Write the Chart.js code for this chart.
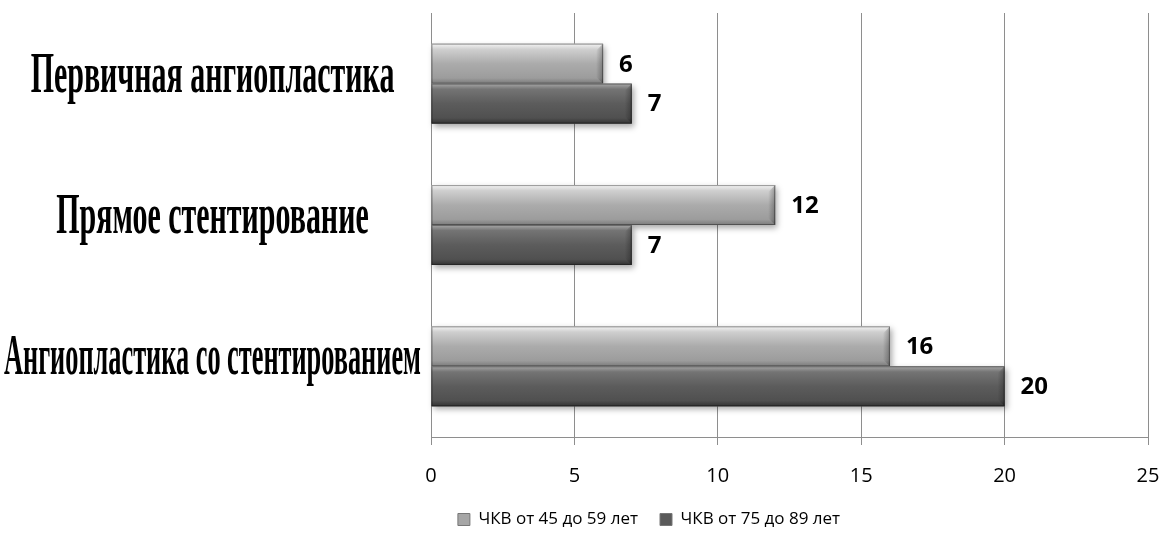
<!DOCTYPE html>
<html>
<head>
<meta charset="utf-8">
<script src="https://cdn.jsdelivr.net/npm/chart.js@4/dist/chart.umd.min.js"></script>
<style>
  html, body { margin: 0; padding: 0; background: #fff; }
  #wrap { width: 1168px; height: 540px; }
</style>
</head>
<body>
<div id="wrap"><canvas id="myChart" width="1168" height="540"></canvas></div>
<script>
'use strict';

// categories top to bottom
var categories = ['Первичная ангиопластика', 'Прямое стентирование', 'Ангиопластика со стентированием'];
var seriesNames = ['ЧКВ от 45 до 59 лет', 'ЧКВ от 75 до 89 лет'];
var values4559 = [6, 12, 16];
var values7589 = [7, 7, 20];
var xTicks = [0, 5, 10, 15, 20, 25];

var tickFont = '"Open Sans", sans-serif';

// colour stops for the bevelled bars: [top, upper, middle, lower, bottom]
var barShades = [
  ['#f4f4f4', '#cfcfcf', '#ababab', '#9c9c9c', '#7a7a7a'],
  ['#a8a8a8', '#747474', '#5c5c5c', '#505050', '#333333']
];
var legendColors = ['#a6a6a6', '#5a5a5a'];

var LEFT_PAD = 150;   // shifts the legend, the y axis width makes up for it
var PLOT_LEFT = 431;

function bevelBar(ctx, bar, shades) {
  var top = bar.y - bar.height / 2, h = bar.height;
  var left = bar.base, w = bar.x - bar.base;
  var g = ctx.createLinearGradient(0, top, 0, top + h);
  g.addColorStop(0, shades[0]);
  g.addColorStop(0.14, shades[1]);
  g.addColorStop(0.5, shades[2]);
  g.addColorStop(0.86, shades[3]);
  g.addColorStop(1, shades[4]);
  ctx.fillStyle = g;
  ctx.fillRect(left, top, w, h);
  // darker chamfer on the right end
  var e = Math.min(7, w / 3);
  var ge = ctx.createLinearGradient(left + w - e, 0, left + w, 0);
  ge.addColorStop(0, 'rgba(0,0,0,0)');
  ge.addColorStop(1, 'rgba(0,0,0,0.28)');
  ctx.fillStyle = ge;
  ctx.beginPath();
  ctx.moveTo(left + w - e, top + e);
  ctx.lineTo(left + w, top);
  ctx.lineTo(left + w, top + h);
  ctx.lineTo(left + w - e, top + h - e);
  ctx.closePath();
  ctx.fill();
  ctx.strokeStyle = 'rgba(0,0,0,0.35)';
  ctx.lineWidth = 1;
  ctx.strokeRect(left + 0.5, top + 0.5, w - 1, h - 1);
}

var barPainter = {
  id: 'barPainter',
  beforeDatasetsDraw: function (chart) {
    var ctx = chart.ctx;
    ctx.save();
    ctx.shadowColor = 'rgba(0,0,0,0.35)';
    ctx.shadowBlur = 6;
    ctx.shadowOffsetX = 2;
    ctx.shadowOffsetY = 3;
    chart.data.datasets.forEach(function (ds, di) {
      chart.getDatasetMeta(di).data.forEach(function (bar) {
        ctx.fillStyle = '#777';
        ctx.fillRect(bar.base, bar.y - bar.height / 2, bar.x - bar.base, bar.height);
      });
    });
    ctx.restore();
  },
  afterDatasetsDraw: function (chart) {
    var ctx = chart.ctx;
    ctx.save();
    chart.data.datasets.forEach(function (ds, di) {
      chart.getDatasetMeta(di).data.forEach(function (bar) {
        bevelBar(ctx, bar, barShades[di]);
      });
    });
    // value labels
    ctx.fillStyle = '#000';
    ctx.font = 'bold 24px "Open Sans", sans-serif';
    ctx.textBaseline = 'middle';
    ctx.textAlign = 'left';
    chart.data.datasets.forEach(function (ds, di) {
      chart.getDatasetMeta(di).data.forEach(function (bar, i) {
        ctx.fillText(String(ds.data[i]), bar.x + 16, bar.y + 1);
      });
    });
    ctx.restore();
  }
};

// big condensed serif category names left of the plot
var categoryLabels = {
  id: 'categoryLabels',
  afterDraw: function (chart) {
    var ctx = chart.ctx, area = chart.chartArea, y = chart.scales.y;
    var maxW = area.left - 14;
    ctx.save();
    ctx.font = 'bold 56px "Liberation Serif", "Times New Roman", serif';
    ctx.fillStyle = '#000';
    ctx.textBaseline = 'alphabetic';
    categories.forEach(function (label, i) {
      var raw = ctx.measureText(label).width;
      var squeeze = Math.min(0.535, maxW / raw);
      var w = raw * squeeze;
      var cx = area.left / 2 - 3;
      ctx.save();
      ctx.translate(cx - w / 2, y.getPixelForValue(i) + 8);
      ctx.scale(squeeze, 1);
      ctx.fillText(label, 0, 0);
      ctx.restore();
    });
    ctx.restore();
  }
};

var ctx = document.getElementById('myChart');
var myChart = new Chart(ctx, {
  type: 'bar',
  data: {
    labels: categories,
    datasets: [
      { label: seriesNames[0], data: values4559, backgroundColor: legendColors[0] },
      { label: seriesNames[1], data: values7589, backgroundColor: legendColors[1] }
    ]
  },
  options: {
    indexAxis: 'y',
    responsive: false,
    animation: false,
    devicePixelRatio: 1,
    layout: { padding: { top: 13, right: 20, left: LEFT_PAD, bottom: 2 } },
    datasets: { bar: { categoryPercentage: 0.565, barPercentage: 1 } },
    scales: {
      x: {
        min: 0,
        max: 25,
        afterBuildTicks: function (scale) {
          scale.ticks = xTicks.map(function (v) { return { value: v }; });
        },
        afterFit: function (scale) {
          scale.height = 52;
          scale.paddingLeft = 0;
          scale.paddingRight = 0;
        },
        grid: { color: '#8e8e8e', lineWidth: 1, tickLength: 8, drawTicks: true },
        border: { color: '#8e8e8e' },
        ticks: { color: '#000', padding: 19, font: { family: tickFont, size: 20 } }
      },
      y: {
        grid: { display: false },
        border: { color: '#8e8e8e' },
        ticks: { display: false },
        afterFit: function (scale) { scale.width = PLOT_LEFT - LEFT_PAD; }
      }
    },
    plugins: {
      tooltip: { enabled: false },
      legend: {
        position: 'bottom',
        labels: {
          color: '#000',
          boxWidth: 12,
          boxHeight: 12,
          padding: 22,
          font: { family: tickFont, size: 17 },
          generateLabels: function (chart) {
            return chart.data.datasets.map(function (ds, i) {
              return {
                text: ds.label,
                fillStyle: legendColors[i],
                strokeStyle: '#777',
                lineWidth: 1,
                datasetIndex: i
              };
            });
          }
        }
      }
    }
  },
  plugins: [barPainter, categoryLabels]
});
</script>
</body>
</html>
